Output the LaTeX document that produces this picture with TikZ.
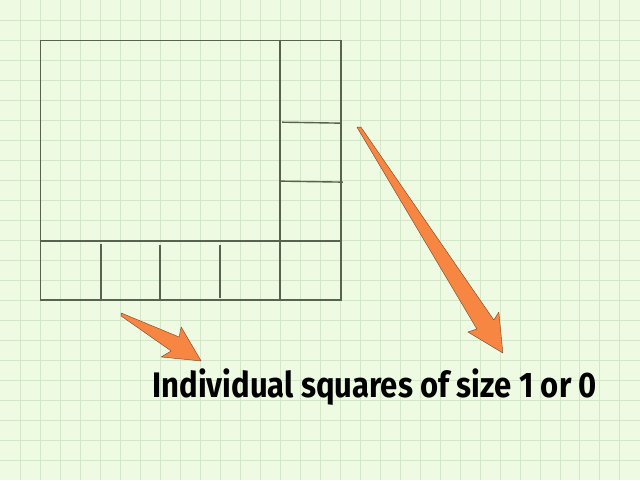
\documentclass[tikz,border=0pt]{standalone}
\usepackage{fontspec}
\usepackage{graphicx}
\newfontfamily\labelfont{Fira Sans}
\definecolor{paper}{RGB}{238,250,226}
\definecolor{gridline}{RGB}{212,230,200}
\definecolor{pen}{RGB}{88,98,78}
\definecolor{arrowfill}{RGB}{247,134,66}
\definecolor{arrowline}{RGB}{120,70,40}
\tikzset{
	cell/.style={pen, line width=1pt},
	bigarrow/.style={fill=arrowfill, draw=arrowline, line width=0.3pt, line join=round}
}
\begin{document}
\begin{tikzpicture}[x=0.025cm,y=-0.025cm]
	\fill[paper] (0,0) rectangle (640,480);
	\foreach \k in {20,40,...,620} \draw[gridline] (\k,0) -- (\k,480);
	\foreach \k in {20,40,...,460} \draw[gridline] (0,\k) -- (640,\k);
	
	% the board
	\draw[cell] (40,40) rectangle (341,300);
	\draw[cell] (40,241) -- (341,241);
	\draw[cell] (280,40) -- (280,300);
	
	% right column
	\draw[cell] (282,122) -- (342,123);
	\draw[cell] (280,181) -- (343,182);
	
	% bottom row
	\draw[cell] (101,244) -- (101,300);
	\draw[cell] (160,245) -- (160,300);
	\draw[cell] (220,245) -- (220,298);
	
	% arrows
	\draw[bigarrow] (121,313) -- (179,337) -- (181,327) -- (201,361) -- (161,357) -- (171,351) -- (121,316) -- cycle;
	\draw[bigarrow] (357,127) -- (361,127) -- (494,320) -- (499,312) -- (503,353) -- (468,332) -- (477,329) -- cycle;
	
	\node[anchor=base west, inner sep=0] (label) at (152,398)
	{\resizebox{11.12cm}{0.72cm}{\labelfont\bfseries Individual squares of size 1 or 0}};
\end{tikzpicture}
\end{document}
